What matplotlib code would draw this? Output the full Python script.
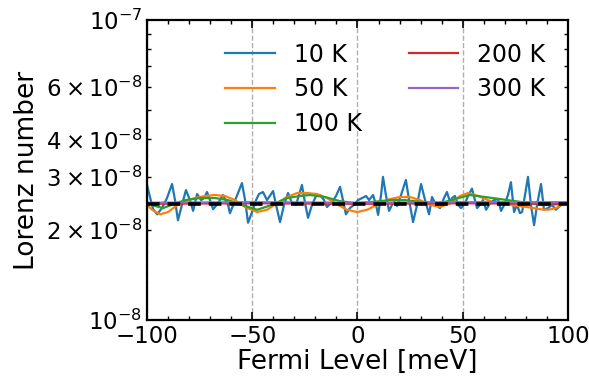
import matplotlib
matplotlib.use("Agg")
import matplotlib.pyplot as plt
from matplotlib.ticker import MultipleLocator

# Fermi level [meV] and Lorenz number [1e-8 W Ohm / K^2]
E_10K = [-100.0, -98.6, -97.1, -95.2, -92.9, -90.5, -88.1, -86.7, -85.3, -83.4,
         -81.5, -79.6, -78.1, -76.2, -74.3, -72.9, -71.5, -70.1, -68.6, -66.3,
         -63.9, -61.5, -60.6, -57.7, -54.9, -53.4, -52.0, -50.1, -48.2, -46.8,
         -44.9, -43.0, -42.0, -40.1, -38.7, -36.8, -34.9, -33.0, -31.1, -29.2,
         -27.8, -26.4, -24.9, -23.5, -21.6, -19.7, -17.8, -15.9, -14.5, -12.1,
         -10.2, -8.3, -6.9, -5.5, -3.6, -1.7, 0.3, 2.2, 4.1, 5.5,
         7.4, 8.8, 9.8, 11.2, 12.1, 13.5, 15.0, 16.4, 17.3, 18.8,
         20.7, 23.0, 24.5, 26.4, 28.3, 30.2, 32.1, 34.0, 35.4, 37.3,
         39.2, 41.1, 42.5, 44.0, 44.9, 46.3, 47.8, 49.2, 51.1, 52.5,
         54.4, 55.8, 56.8, 58.2, 59.6, 61.1, 63.0, 64.9, 66.8, 68.2,
         70.1, 71.5, 72.9, 74.4, 75.8, 77.2, 78.2, 79.6, 81.0, 82.4,
         83.9, 85.3, 87.2, 88.6, 90.5, 92.4, 94.3, 96.7, 100.0]
L_10K = [2.82, 2.57, 2.34, 2.25, 2.36, 2.55, 2.84, 2.51, 2.15, 2.42,
         2.71, 2.51, 2.31, 2.63, 2.51, 2.55, 2.67, 2.51, 2.34, 2.45,
         2.61, 2.42, 2.27, 2.55, 2.86, 2.51, 2.11, 2.29, 2.51, 2.63,
         2.67, 2.51, 2.57, 2.69, 2.42, 2.12, 2.42, 2.65, 2.45, 2.42,
         2.61, 2.82, 2.45, 2.19, 2.42, 2.59, 2.61, 2.51, 2.38, 2.47,
         2.59, 2.78, 2.51, 2.25, 2.36, 2.42, 2.51, 2.55, 2.59, 2.51,
         2.61, 2.42, 2.24, 2.61, 3.00, 2.61, 2.31, 2.42, 2.47, 2.40,
         2.61, 2.93, 2.51, 2.12, 2.42, 2.84, 2.51, 2.25, 2.57, 2.42,
         2.36, 2.55, 2.67, 2.47, 2.55, 2.59, 2.42, 2.36, 2.45, 2.59,
         2.74, 2.51, 2.36, 2.42, 2.51, 2.33, 2.45, 2.51, 2.53, 2.31,
         2.45, 2.61, 2.88, 2.29, 2.42, 2.27, 2.29, 2.61, 3.00, 2.42,
         2.07, 2.42, 2.84, 2.33, 2.36, 2.42, 2.33, 2.42, 2.47]

E_50K = [-100.0, -97.6, -93.8, -90.0, -86.2, -81.9, -77.2, -72.4, -67.7, -62.9,
         -58.2, -53.4, -47.7, -43.0, -38.2, -33.5, -28.7, -24.0, -19.2, -14.5,
         -9.7, -5.0, -0.2, 4.5, 9.3, 15.4, 20.2, 24.9, 29.7, 34.4,
         39.2, 44.0, 48.7, 52.5, 57.3, 64.4, 72.5, 80.5, 86.7, 90.5,
         94.3, 97.6, 100.0]
L_50K = [2.42, 2.33, 2.25, 2.29, 2.40, 2.49, 2.55, 2.59, 2.61, 2.59,
         2.51, 2.38, 2.29, 2.33, 2.45, 2.57, 2.65, 2.65, 2.63, 2.55,
         2.43, 2.33, 2.29, 2.33, 2.42, 2.53, 2.57, 2.57, 2.51, 2.42,
         2.38, 2.45, 2.59, 2.65, 2.59, 2.47, 2.42, 2.38, 2.34, 2.33,
         2.36, 2.43, 2.47]

E_100K = [-100.0, -96.2, -92.4, -87.6, -81.9, -74.8, -67.7, -61.5, -55.8, -47.7,
          -40.6, -33.5, -27.3, -22.6, -15.4, -8.3, -1.2, 5.9, 15.4, 22.6,
          31.1, 39.2, 46.3, 53.5, 60.6, 67.7, 74.8, 82.0, 89.1, 95.3, 100.0]
L_100K = [2.45, 2.40, 2.36, 2.43, 2.51, 2.55, 2.55, 2.51, 2.43, 2.33,
          2.42, 2.55, 2.59, 2.61, 2.57, 2.49, 2.45, 2.47, 2.51, 2.51,
          2.47, 2.45, 2.53, 2.61, 2.57, 2.53, 2.49, 2.45, 2.42, 2.43, 2.47]

E_200K = [-100.0, -50.0, 0.0, 50.0, 100.0]
L_200K = [2.44, 2.45, 2.44, 2.45, 2.44]

E_300K = [-100.0, -50.0, 0.0, 50.0, 100.0]
L_300K = [2.46, 2.47, 2.46, 2.47, 2.47]

L0 = 2.44e-8  # Sommerfeld value

series = [("10 K", E_10K, L_10K), ("50 K", E_50K, L_50K), ("100 K", E_100K, L_100K),
          ("200 K", E_200K, L_200K), ("300 K", E_300K, L_300K)]

fig = plt.figure(figsize=(5.89, 3.77), dpi=100)
ax = fig.add_axes([0.2496, 0.1512, 0.7147, 0.7958])

for label, e, l in series:
    ax.plot(e, [v * 1e-8 for v in l], lw=1.6, label=label)

ax.axhline(L0, color="black", lw=2.6, dashes=(3.5, 2.2), zorder=5)

ax.set_yscale("log")
ax.set_xlim(-100, 100)
ax.set_ylim(1e-8, 1e-7)
ax.xaxis.set_major_locator(MultipleLocator(50))
ax.xaxis.set_minor_locator(MultipleLocator(10))
ax.grid(axis="x", which="major", ls="--", color="#b0b0b0", lw=1.0)

ax.tick_params(which="both", direction="in", top=True, right=True, labelsize=16.5)
ax.tick_params(which="major", length=6, width=1.2)
ax.tick_params(which="minor", length=3, width=1.0)
for s in ax.spines.values():
    s.set_linewidth(1.6)

ax.set_xlabel("Fermi Level [meV]", fontsize=19, labelpad=1)
ax.set_ylabel("Lorenz number", fontsize=19)

ax.legend(ncol=2, frameon=False, fontsize=17, loc="upper left",
          bbox_to_anchor=(0.135, 0.995), handlelength=2.1, labelspacing=0.45)

fig.savefig("out.png", dpi=100)
